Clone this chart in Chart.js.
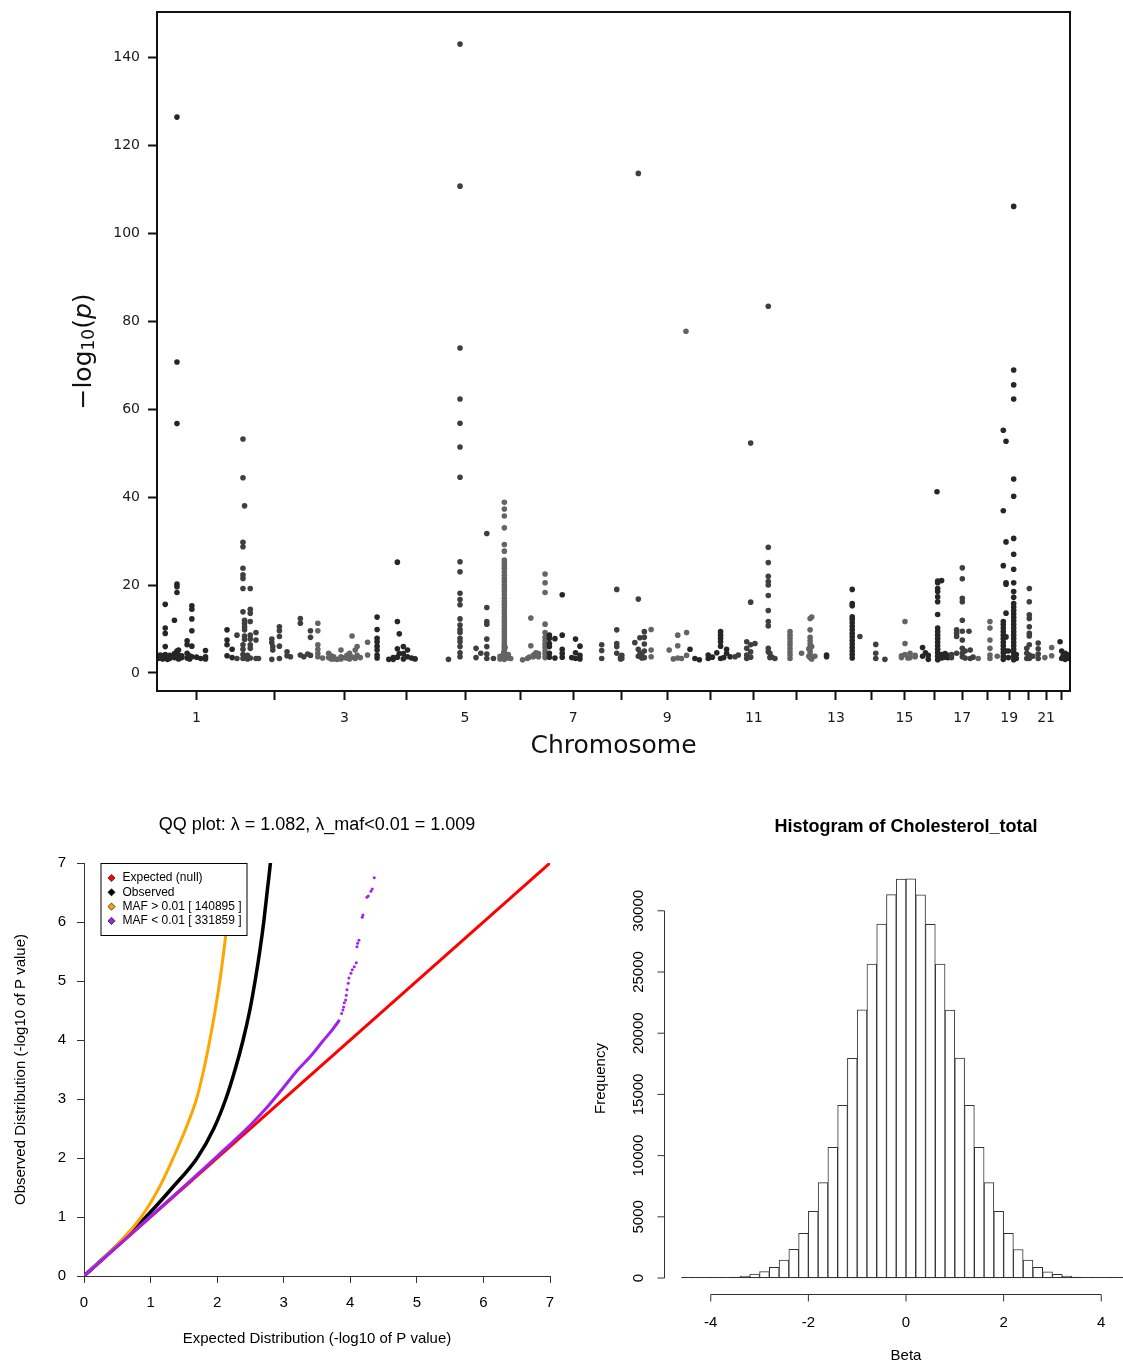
<!DOCTYPE html>
<html>
<head>
<meta charset="utf-8">
<title>GWAS summary: Manhattan, QQ and histogram</title>
<script src="https://cdn.jsdelivr.net/npm/chart.js@4.4.0/dist/chart.umd.min.js"></script>
<style>
  html, body { margin: 0; padding: 0; background: #fff; overflow: hidden; }
  body { width: 1123px; height: 1365px; position: relative; }
  .panel { position: absolute; }
  #manhattanBox { left: 0; top: 0; width: 1123px; height: 780px; }
  #qqBox { left: 0; top: 790px; width: 580px; height: 575px; }
  #histBox { left: 580px; top: 790px; width: 580px; height: 575px; }
</style>
</head>
<body>
<div class="panel" id="manhattanBox"><canvas id="manhattan"></canvas></div>
<div class="panel" id="qqBox"><canvas id="qq"></canvas></div>
<div class="panel" id="histBox"><canvas id="hist"></canvas></div>

<script>
// ---------------- Manhattan plot data ----------------
// chromosome lengths in Mb (hg19), used to lay chromosomes end to end
const chromLengths = [249.3, 243.2, 198.0, 191.2, 180.9, 171.1, 159.1, 146.4, 141.2, 135.5, 135.0,
  133.9, 115.2, 107.3, 102.5, 90.4, 81.2, 78.1, 59.1, 63.0, 48.1, 51.3];
const chromColours = ["#262626", "#3f3f3f", "#646464"];
const manhattanYTicks = [0, 20, 40, 60, 80, 100, 120, 140];

// [chromosome, position within chromosome (Mb), -log10(p) values at that position]
const manhattanCols = [
  [1, 4, [3.3, 3.8]], [1, 10, [3.5, 4.1]], [1, 18, [3.2, 3.9]],
  [1, 26, [15.6, 10.2, 9.0, 6.0, 4.2, 3.4]], [1, 33, [3.6, 3.1]], [1, 40, [4.0, 3.3]],
  [1, 47, [3.7]], [1, 55, [12.0, 4.4, 3.5]],
  [1, 63, [126.4, 70.7, 56.7, 20.2, 19.6, 18.3, 5.0, 4.5, 3.6]],
  [1, 68, [5.2, 4.0, 3.2]], [1, 78, [3.5, 3.9]], [1, 95, [7.3, 6.4, 4.5, 3.4]],
  [1, 103, [3.9, 3.2]], [1, 110, [15.3, 14.5, 12.3, 9.6, 6.1, 3.7]], [1, 125, [3.6]],
  [1, 138, [3.3]], [1, 153, [5.1, 3.7, 3.2]], [1, 221, [9.8, 7.5, 6.4, 3.9]], [1, 237, [5.4, 3.5]],

  [2, 3, [8.6, 3.3]],
  [2, 22, [53.2, 44.4, 29.7, 28.7, 23.8, 22.3, 21.5, 19.2, 13.9, 6.4, 5.4, 4.2, 3.3]],
  [2, 27, [38.0, 12.0, 11.3, 10.5, 9.8, 8.4, 7.6, 3.6]], [2, 36, [4.0, 3.2]],
  [2, 45, [19.2, 14.5, 13.6, 11.7, 8.6, 7.7, 6.4, 5.6, 3.4]], [2, 63, [9.2, 7.5, 3.3]],
  [2, 71, [3.3]], [2, 113, [7.7, 6.9, 3.1]], [2, 116, [6.0, 5.2]],
  [2, 137, [10.5, 9.6, 8.3, 6.1, 3.3]], [2, 161, [4.8, 3.9]], [2, 172, [3.7]],
  [2, 203, [12.4, 11.3, 4.1]], [2, 214, [3.7]], [2, 226, [4.3]], [2, 235, [9.6, 8.1, 4.0]],

  [3, 15, [11.3, 9.6, 6.4, 5.4, 4.5, 3.7]], [3, 30, [3.4]], [3, 49, [4.5, 3.5]],
  [3, 57, [3.9, 3.2]], [3, 65, [3.7, 3.2]], [3, 76, [3.1]], [3, 88, [5.2, 3.7, 3.2]],
  [3, 100, [3.5]], [3, 107, [4.0, 3.4]], [3, 115, [4.5, 3.2]], [3, 123, [8.4, 3.6]],
  [3, 133, [5.2, 3.3]], [3, 139, [6.0, 4.0]], [3, 149, [3.5]], [3, 172, [7.0, 4.1]],

  [4, 4, [12.7, 9.9, 7.9, 7.1, 6.1, 5.2, 4.1, 3.4]], [4, 41, [3.1]], [4, 55, [3.5, 3.1]],
  [4, 68, [25.2, 11.7, 5.5, 3.6]], [4, 74, [8.9, 4.4]], [4, 87, [6.0, 4.4, 3.2]],
  [4, 100, [5.2, 3.7]], [4, 113, [3.4]], [4, 124, [3.2]],

  [5, 38, [3.1]],
  [5, 74.5, [143.0, 110.7, 73.9, 62.3, 56.8, 51.4, 44.5, 25.3, 23.0, 18.1, 16.7, 15.5, 12.3,
    10.9, 9.9, 9.2, 7.9, 7.1, 6.0, 4.6, 3.7]],
  [5, 125, [5.6, 3.5]], [5, 140, [4.5]],
  [5, 159, [31.7, 14.9, 11.7, 11.1, 7.7, 6.0, 4.3, 3.3]], [5, 180, [3.3]],

  [6, 20, [3.8, 3.2]],
  [6, 33.5, [38.8, 37.3, 35.7, 33.0, 29.2, 27.7, 25.7, 25.0, 24.4, 23.8, 23.0, 22.2, 21.5, 20.8,
    20.0, 19.3, 18.6, 17.8, 17.0, 16.3, 15.6, 14.9, 14.2, 13.5, 12.8, 12.1, 11.5, 10.8, 10.1,
    9.5, 8.9, 8.3, 7.7, 7.1, 6.5, 6.0, 5.5, 5.0, 4.5, 4.0, 3.5, 3.1]],
  [6, 31.5, [4.6, 3.6]], [6, 36, [5.8, 3.9]], [6, 46, [4.2, 3.4]], [6, 53.5, [3.3]],
  [6, 91, [3.0]], [6, 106, [3.3]], [6, 112, [3.6]], [6, 117, [12.5, 6.2]],
  [6, 125, [4.1, 3.7]], [6, 133, [4.6]], [6, 141, [4.4, 3.7]],
  [6, 162, [22.5, 20.5, 18.3, 11.1, 9.2, 8.1, 7.3, 6.5, 5.8, 5.0, 4.3, 3.5]],

  [7, 4.5, [8.6, 7.9, 6.7, 6.0, 4.5, 3.6]], [7, 22, [7.8, 3.4]],
  [7, 45, [17.8, 8.6, 5.4, 4.5, 3.6]], [7, 75, [3.5]], [7, 87, [7.7, 4.6, 3.3]],
  [7, 101, [6.1, 4.0, 3.2]],

  [8, 10.5, [6.4, 5.1, 3.3]], [8, 58, [19.0, 9.8, 6.7, 6.0, 4.5]], [8, 70, [3.5, 3.2]],
  [8, 74, [4.0, 3.3]], [8, 115, [6.9]], [8, 126, [113.6, 16.8, 5.4, 3.8]],
  [8, 131, [8.0, 4.3]], [8, 137, [4.5, 3.4]], [8, 145, [9.4, 8.1, 6.6, 5.0, 3.5]],

  [9, 20, [9.9, 5.2, 3.7]], [9, 77, [5.2]], [9, 90, [3.2]], [9, 104, [8.6, 6.2, 3.4]],
  [9, 116, [3.3]], [9, 130, [77.7]], [9, 132, [9.2, 4.0]],

  [10, 1.5, [5.4]], [10, 17, [3.3]], [10, 31, [3.0]], [10, 59, [4.1, 3.3]], [10, 72, [3.6]],
  [10, 86, [4.6]], [10, 98, [9.4, 8.6, 7.9, 7.1, 6.1, 3.3]], [10, 108, [3.5]],
  [10, 117, [5.4, 4.5]], [10, 128, [3.7]],

  [11, 8, [3.7]], [11, 18.5, [4.1]], [11, 45, [7.1, 5.6, 4.1, 3.3]],
  [11, 57.4, [52.3, 16.1, 6.4, 4.8, 3.6]], [11, 71, [6.7]],
  [11, 113, [83.4, 28.6, 25.1, 22.0, 20.8, 20.0, 17.6, 14.2, 11.7, 10.7, 5.6, 4.8]],
  [11, 118, [4.5, 3.5]], [11, 124, [3.6]], [11, 134, [3.3]],

  [12, 46.6, [9.4, 8.6, 7.9, 7.1, 6.4, 5.6, 4.8, 4.1, 3.3]], [12, 83, [4.5]],
  [12, 106, [5.5, 3.8]], [12, 110, [12.4, 9.8, 8.1, 7.3, 6.6, 5.8, 5.0, 4.3, 3.5]],
  [12, 115, [12.7, 6.0, 3.2]], [12, 125, [3.8]],

  [13, 28, [4.1, 3.7]],
  [13, 109, [19.0, 15.8, 15.3, 12.8, 12.2, 11.4, 10.6, 9.8, 9.0, 8.2, 7.4, 6.6, 5.8, 5.0, 4.2, 3.4]],

  [14, 18, [8.3]], [14, 68, [6.5, 4.5, 3.3]], [14, 97, [3.1]],

  [15, 42, [3.9, 3.5]], [15, 53, [11.7, 6.7, 4.2]], [15, 62, [3.4]], [15, 69, [4.5, 3.5]],
  [15, 85, [4.0, 3.7]],

  [16, 6, [5.8, 3.8]], [16, 15, [4.6]], [16, 24, [4.0, 3.1]], [16, 51.5, [41.2]],
  [16, 53.6, [20.9, 20.5, 19.2, 18.5, 17.3, 16.2, 13.3, 10.2, 9.4, 8.6, 7.8, 7.0, 6.2, 5.4, 4.6, 3.8, 3.0]],
  [16, 66, [21.0, 4.2, 3.4]], [16, 77, [4.4, 3.6]], [16, 86, [3.5, 4.0]],

  [17, 7, [4.2, 3.5]], [17, 23, [9.8, 9.0, 8.3, 4.5]],
  [17, 41, [23.9, 21.4, 17.0, 16.2, 12.0, 9.5, 7.5, 5.6, 4.5, 3.7]], [17, 50, [5.0, 3.4]],
  [17, 62, [9.5]], [17, 66, [5.2, 3.3]], [17, 75, [3.6]],

  [18, 10, [3.3]], [18, 47, [11.7, 10.2, 7.5, 5.6, 4.1, 3.3]], [18, 70, [3.8]],

  [19, 11, [55.2, 36.9, 24.4, 11.7, 11.0, 10.2, 9.4, 8.6, 7.8, 7.0, 6.2, 5.4, 4.6, 3.8, 3.1]],
  [19, 19.6, [52.7, 29.8, 20.5, 20.2, 13.6, 8.2, 5.0]], [19, 27, [5.0, 3.5]],
  [19, 43.8, [106.1, 68.9, 65.5, 62.3, 44.1, 40.2, 30.6, 27.0, 23.6, 20.5, 18.5, 17.2, 15.8,
    15.0, 14.2, 13.4, 12.6, 11.8, 11.0, 10.2, 9.4, 8.6, 7.8, 7.0, 6.2, 5.4, 4.6, 3.8, 3.0]],
  [19, 52, [4.2, 3.3]],

  [20, 26, [5.6, 4.5, 3.3]], [20, 34, [19.2, 16.2, 13.2, 12.4, 10.5, 9.0, 8.4, 6.4, 4.1, 3.3]],
  [20, 45, [3.8]], [20, 62, [6.8, 5.5, 4.3, 3.3]],

  [21, 20, [3.5]], [21, 41.6, [5.8, 3.9]],

  [22, 20, [7.1]], [22, 25, [5.0, 3.3]], [22, 30, [4.0, 3.6]], [22, 36, [4.5, 3.1]],
  [22, 42, [3.6, 4.2]], [22, 48, [3.3]]
];

// ---------------- QQ plot data ----------------
const qqTicks = [0, 1, 2, 3, 4, 5, 6, 7];
const nullExpected = [0, 7];
const nullObserved = [0, 7];
const allExpected = [0, 0.5, 0.93, 1.33, 1.70, 1.95, 2.13, 2.27, 2.39, 2.49, 2.57, 2.64, 2.70, 2.75, 2.80, 2.84];
const allObserved = [0, 0.52, 1.0, 1.5, 2.0, 2.5, 3.0, 3.5, 4.0, 4.5, 5.0, 5.5, 6.0, 6.5, 7.0, 7.5];
const commonExpected = [0, 0.47, 0.86, 1.13, 1.34, 1.53, 1.69, 1.80, 1.89, 1.97, 2.04, 2.10, 2.15, 2.19, 2.22, 2.25];
const commonObserved = [0, 0.5, 1.0, 1.5, 2.0, 2.5, 3.0, 3.5, 4.0, 4.5, 5.0, 5.5, 6.0, 6.5, 7.0, 7.5];
const rareExpected = [0, 1.0, 2.0, 2.5, 2.75, 3.0, 3.2, 3.4, 3.58, 3.72, 3.84];
const rareObserved = [0, 1.01, 2.03, 2.56, 2.86, 3.2, 3.48, 3.72, 3.97, 4.16, 4.34];
const rareTailExpected = [3.87, 3.89, 3.90, 3.91, 3.93, 3.94, 3.95, 3.97, 3.98, 4.01, 4.03, 4.06,
  4.09, 4.10, 4.11, 4.13, 4.18, 4.19, 4.25, 4.27, 4.31, 4.33, 4.36];
const rareTailObserved = [4.45, 4.51, 4.56, 4.63, 4.68, 4.76, 4.85, 4.96, 5.05, 5.13, 5.19, 5.24,
  5.31, 5.58, 5.64, 5.69, 6.08, 6.12, 6.42, 6.44, 6.52, 6.56, 6.75];
const qqLegendLabels = ["Expected (null)", "Observed", "MAF > 0.01 [ 140895 ]", "MAF < 0.01 [ 331859 ]"];
const qqColours = ["#ff0000", "#000000", "#ffa500", "#a020f0"];

// ---------------- Histogram data ----------------
const betaBinCentres = [-4.5, -4.3, -4.1, -3.9, -3.7, -3.5, -3.3, -3.1, -2.9, -2.7, -2.5, -2.3,
  -2.1, -1.9, -1.7, -1.5, -1.3, -1.1, -0.9, -0.7, -0.5, -0.3, -0.1,
  0.1, 0.3, 0.5, 0.7, 0.9, 1.1, 1.3, 1.5, 1.7, 1.9, 2.1, 2.3, 2.5, 2.7, 2.9, 3.1, 3.3, 3.5,
  3.7, 3.9, 4.1, 4.3, 4.5];
const betaCounts = [2, 4, 9, 18, 35, 70, 170, 320, 520, 870, 1470, 2340,
  3650, 5450, 7790, 10680, 14110, 17950, 21900, 25650, 28920, 31320, 32600,
  32620, 31300, 28900, 25640, 21890, 17960, 14100, 10670, 7800, 5440, 3660, 2330, 1460, 880,
  515, 310, 160, 68, 36, 17, 9, 4, 2];
const betaBinWidth = 0.2;
const histYTicks = [0, 5000, 10000, 15000, 20000, 25000, 30000];
const histXTicks = [-4, -2, 0, 2, 4];

const zip = (xs, ys) => xs.map((x, i) => ({ x: x, y: ys[i] }));
// keep chart area exactly where the layout padding puts it
const noScalePadding = (s) => { s.paddingTop = 0; s.paddingBottom = 0; s.paddingLeft = 0; s.paddingRight = 0; };

// ---------------- Manhattan chart ----------------
const chromStarts = [];
let genomeLength = 0;
chromLengths.forEach((len) => { chromStarts.push(genomeLength); genomeLength += len; });
const chromCentres = chromLengths.map((len, i) => chromStarts[i] + len / 2);

const manhattanPoints = [];
manhattanCols.forEach(([chr, pos, values]) => {
  values.forEach((v) => manhattanPoints.push({ x: chromStarts[chr - 1] + pos, y: v, chr: chr }));
});

const manhattanDecor = {
  id: "manhattanDecor",
  afterDraw(chart) {
    const { ctx, chartArea: a } = chart;
    ctx.save();
    ctx.strokeStyle = "#111";
    ctx.lineWidth = 2;
    ctx.strokeRect(a.left, a.top, a.right - a.left, a.bottom - a.top);
    ctx.fillStyle = "#111";
    ctx.textAlign = "center";
    ctx.textBaseline = "middle";
    ctx.font = '25px "DejaVu Sans"';
    ctx.fillText("Chromosome", (a.left + a.right) / 2, 746);
    // −log10(p) with a subscript 10 and italic p
    const parts = [
      ["\u2212log", '25px "DejaVu Sans"', 0],
      ["10", '17px "DejaVu Sans"', 6],
      ["(", '25px "DejaVu Sans"', 0],
      ["p", 'italic 25px "DejaVu Sans"', 0],
      [")", '25px "DejaVu Sans"', 0]
    ];
    let total = 0;
    parts.forEach((p) => { ctx.font = p[1]; total += ctx.measureText(p[0]).width; });
    ctx.translate(84, (a.top + a.bottom) / 2);
    ctx.rotate(-Math.PI / 2);
    ctx.textAlign = "left";
    let x = -total / 2;
    parts.forEach((p) => {
      ctx.font = p[1];
      ctx.fillText(p[0], x, p[2]);
      x += ctx.measureText(p[0]).width;
    });
    ctx.restore();
  }
};

const mhTickFont = { family: "DejaVu Sans", size: 14 };

new Chart(document.getElementById("manhattan"), {
  type: "scatter",
  data: {
    datasets: [{
      data: manhattanPoints,
      pointRadius: 2.8,
      pointBorderWidth: 0,
      backgroundColor: (c) => (c.raw ? chromColours[(c.raw.chr - 1) % 3] : "#333")
    }]
  },
  options: {
    responsive: true,
    maintainAspectRatio: false,
    animation: false,
    layout: { padding: { left: 0, top: 12, right: 53, bottom: 0 } },
    plugins: { legend: { display: false }, tooltip: { enabled: false } },
    scales: {
      x: {
        type: "linear",
        min: 0,
        max: genomeLength,
        afterBuildTicks: (s) => { s.ticks = chromCentres.map((v) => ({ value: v })); },
        afterFit: (s) => { s.height = 89; noScalePadding(s); },
        grid: { drawOnChartArea: false, tickLength: 9, tickWidth: 2, color: "#111" },
        border: { display: true, color: "#111", width: 2 },
        ticks: {
          autoSkip: false, maxRotation: 0, minRotation: 0, padding: 10, color: "#1a1a1a", font: mhTickFont,
          callback: (v, i) => (i % 2 === 0 ? String(i + 1) : "")
        }
      },
      y: {
        min: -4.1,
        max: 150.3,
        afterBuildTicks: (s) => { s.ticks = manhattanYTicks.map((v) => ({ value: v })); },
        afterFit: (s) => { s.width = 157; noScalePadding(s); },
        grid: { drawOnChartArea: false, tickLength: 9, tickWidth: 2, color: "#111" },
        border: { display: true, color: "#111", width: 2 },
        ticks: { padding: 8, color: "#1a1a1a", font: mhTickFont }
      }
    }
  },
  plugins: [manhattanDecor]
});

// ---------------- QQ chart ----------------
const rFont = "Liberation Sans";

const qqDecor = {
  id: "qqDecor",
  afterDatasetsDraw(chart) {
    const { ctx, chartArea: a } = chart;
    const bx = a.left + 16.5, by = a.top, bw = 146, bh = 72;
    ctx.save();
    ctx.fillStyle = "#fff";
    ctx.fillRect(bx, by, bw, bh);
    ctx.strokeStyle = "#000";
    ctx.lineWidth = 1;
    ctx.strokeRect(bx + 0.5, by + 0.5, bw, bh);
    ctx.font = '12px "' + rFont + '"';
    ctx.textBaseline = "middle";
    ctx.textAlign = "left";
    qqLegendLabels.forEach((label, i) => {
      const cy = by + 15 + i * 14.3;
      const cx = bx + 11;
      ctx.beginPath();
      ctx.moveTo(cx, cy - 3.6);
      ctx.lineTo(cx + 3.6, cy);
      ctx.lineTo(cx, cy + 3.6);
      ctx.lineTo(cx - 3.6, cy);
      ctx.closePath();
      ctx.fillStyle = qqColours[i];
      ctx.fill();
      ctx.strokeStyle = "#222";
      ctx.lineWidth = 0.8;
      ctx.stroke();
      ctx.fillStyle = "#000";
      ctx.fillText(label, bx + 22, cy);
    });
    ctx.restore();
  },
  afterDraw(chart) {
    const { ctx, chartArea: a } = chart;
    const cx = (a.left + a.right) / 2;
    ctx.save();
    ctx.fillStyle = "#000";
    ctx.textAlign = "center";
    ctx.textBaseline = "middle";
    ctx.font = '18px "' + rFont + '"';
    ctx.fillText("QQ plot: \u03bb = 1.082, \u03bb_maf<0.01 = 1.009", cx, 35);
    ctx.font = '15px "' + rFont + '"';
    ctx.fillText("Expected Distribution (-log10 of P value)", cx, 549);
    ctx.translate(21, (a.top + a.bottom) / 2);
    ctx.rotate(-Math.PI / 2);
    ctx.fillText("Observed Distribution (-log10 of P value)", 0, 0);
    ctx.restore();
  }
};

const qqAxis = (extra) => Object.assign({
  type: "linear",
  min: 0,
  max: 7,
  afterBuildTicks: (s) => { s.ticks = qqTicks.map((v) => ({ value: v })); },
  grid: { drawOnChartArea: false, tickLength: 7, tickWidth: 1, color: "#333" },
  border: { display: true, color: "#333", width: 1 },
  ticks: { autoSkip: false, maxRotation: 0, padding: 11, color: "#000", font: { family: rFont, size: 15 } }
}, extra);

new Chart(document.getElementById("qq"), {
  type: "scatter",
  data: {
    datasets: [
      { data: zip(rareTailExpected, rareTailObserved), pointRadius: 1.5, pointBorderWidth: 0,
        backgroundColor: qqColours[3], order: 0 },
      { data: zip(rareExpected, rareObserved), showLine: true, pointRadius: 0, borderColor: qqColours[3],
        borderWidth: 3, cubicInterpolationMode: "monotone", order: 0 },
      { data: zip(commonExpected, commonObserved), showLine: true, pointRadius: 0, borderColor: qqColours[2],
        borderWidth: 3, cubicInterpolationMode: "monotone", order: 1 },
      { data: zip(allExpected, allObserved), showLine: true, pointRadius: 0, borderColor: qqColours[1],
        borderWidth: 3.5, cubicInterpolationMode: "monotone", order: 2 },
      { data: zip(nullExpected, nullObserved), showLine: true, pointRadius: 0, borderColor: qqColours[0],
        borderWidth: 3, order: 3 }
    ]
  },
  options: {
    responsive: true,
    maintainAspectRatio: false,
    animation: false,
    layout: { padding: { left: 0, top: 73, right: 30, bottom: 0 } },
    plugins: { legend: { display: false }, tooltip: { enabled: false } },
    scales: {
      x: qqAxis({ afterFit: (s) => { s.height = 89; noScalePadding(s); } }),
      y: qqAxis({ afterFit: (s) => { s.width = 84; noScalePadding(s); } })
    }
  },
  plugins: [qqDecor]
});

// ---------------- Histogram chart ----------------
const histDecor = {
  id: "histDecor",
  afterDatasetsDraw(chart) {
    // R draws every bin, so even the near-empty ones leave a continuous base line
    const { ctx, scales } = chart;
    const xs = scales.x, ys = scales.y;
    const y0 = Math.round(ys.getPixelForValue(0)) - 0.5;
    ctx.save();
    ctx.strokeStyle = "#333";
    ctx.lineWidth = 1;
    ctx.beginPath();
    ctx.moveTo(xs.getPixelForValue(betaBinCentres[0] - betaBinWidth / 2), y0);
    ctx.lineTo(xs.getPixelForValue(betaBinCentres[betaBinCentres.length - 1] + betaBinWidth / 2), y0);
    ctx.stroke();
    ctx.restore();
  },
  afterDraw(chart) {
    const { ctx, chartArea: a, scales } = chart;
    const xs = scales.x, ys = scales.y;
    ctx.save();
    ctx.strokeStyle = "#333";
    ctx.lineWidth = 1;
    ctx.fillStyle = "#000";
    ctx.font = '15px "' + rFont + '"';
    // y axis
    const ax = Math.round(a.left) + 0.5;
    ctx.beginPath();
    ctx.moveTo(ax, ys.getPixelForValue(histYTicks[0]));
    ctx.lineTo(ax, ys.getPixelForValue(histYTicks[histYTicks.length - 1]));
    histYTicks.forEach((v) => {
      const py = ys.getPixelForValue(v);
      ctx.moveTo(ax, py);
      ctx.lineTo(ax - 7, py);
    });
    ctx.stroke();
    ctx.textAlign = "center";
    ctx.textBaseline = "middle";
    histYTicks.forEach((v) => {
      const py = ys.getPixelForValue(v);
      ctx.save();
      ctx.translate(ax - 26, py);
      ctx.rotate(-Math.PI / 2);
      ctx.fillText(String(v), 0, 0);
      ctx.restore();
    });
    // x axis
    const ay = Math.round(a.bottom) + 0.5;
    ctx.beginPath();
    ctx.moveTo(xs.getPixelForValue(histXTicks[0]), ay);
    ctx.lineTo(xs.getPixelForValue(histXTicks[histXTicks.length - 1]), ay);
    histXTicks.forEach((v) => {
      const px = xs.getPixelForValue(v);
      ctx.moveTo(px, ay);
      ctx.lineTo(px, ay + 7);
    });
    ctx.stroke();
    histXTicks.forEach((v) => {
      ctx.fillText(String(v), xs.getPixelForValue(v), ay + 28);
    });
    // titles
    ctx.fillText("Beta", xs.getPixelForValue(0), 566);
    ctx.save();
    ctx.translate(21, (a.top + a.bottom) / 2);
    ctx.rotate(-Math.PI / 2);
    ctx.fillText("Frequency", 0, 0);
    ctx.restore();
    ctx.font = 'bold 18px "' + rFont + '"';
    ctx.fillText("Histogram of Cholesterol_total", (a.left + a.right) / 2, 37);
    ctx.restore();
  }
};

new Chart(document.getElementById("hist"), {
  type: "bar",
  data: {
    datasets: [{
      data: zip(betaBinCentres, betaCounts),
      backgroundColor: "#ffffff",
      borderColor: "#333333",
      borderWidth: 1,
      borderSkipped: false,
      barPercentage: 1,
      categoryPercentage: 1
    }]
  },
  options: {
    responsive: true,
    maintainAspectRatio: false,
    animation: false,
    layout: { padding: { left: 83.5, top: 73, right: 11.5, bottom: 71 } },
    plugins: { legend: { display: false }, tooltip: { enabled: false } },
    scales: {
      x: { type: "linear", min: -4.968, max: 4.968, offset: false, display: false },
      y: { min: -1304, max: 33904, display: false }
    }
  },
  plugins: [histDecor]
});
</script>
</body>
</html>
